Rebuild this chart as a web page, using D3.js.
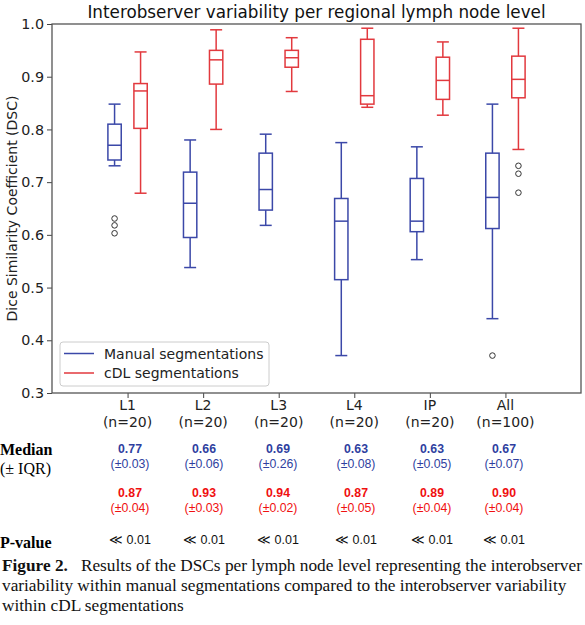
<!DOCTYPE html>
<html><head><meta charset="utf-8">
<script src="https://cdn.jsdelivr.net/npm/d3@7"></script>
<style>body{margin:0;background:#fff}svg{display:block}</style>
</head><body>
<svg id="c" width="585" height="625"></svg>
<script>
const categories = ["L1","L2","L3","L4","IP","All"];
const nLabels = ["(n=20)","(n=20)","(n=20)","(n=20)","(n=20)","(n=100)"];
// [lowWhisker, q1, median, q3, highWhisker]
const manualStats = [
  [0.731,0.742,0.770,0.810,0.848],
  [0.538,0.595,0.660,0.719,0.780],
  [0.618,0.647,0.686,0.755,0.791],
  [0.371,0.515,0.626,0.669,0.775],
  [0.553,0.606,0.626,0.707,0.767],
  [0.441,0.612,0.671,0.755,0.848]
];
const cdlStats = [
  [0.679,0.802,0.873,0.887,0.947],
  [0.800,0.886,0.932,0.950,0.989],
  [0.872,0.918,0.936,0.950,0.974],
  [0.842,0.848,0.864,0.971,0.992],
  [0.827,0.857,0.893,0.937,0.966],
  [0.762,0.860,0.895,0.939,0.992]
];
const manualOutliers = [[0.631,0.618,0.603],[],[],[],[],[0.371]];
const cdlOutliers = [[],[],[],[],[],[0.731,0.716,0.680]];
const medianManual = ["0.77","0.66","0.69","0.63","0.63","0.67"];
const iqrManual = ["(±0.03)","(±0.06)","(±0.26)","(±0.08)","(±0.05)","(±0.07)"];
const medianCdl = ["0.87","0.93","0.94","0.87","0.89","0.90"];
const iqrCdl = ["(±0.04)","(±0.03)","(±0.02)","(±0.05)","(±0.04)","(±0.04)"];
const pValues = ["≪ 0.01","≪ 0.01","≪ 0.01","≪ 0.01","≪ 0.01","≪ 0.01"];
const yTicks = [0.3,0.4,0.5,0.6,0.7,0.8,0.9,1.0];
const seriesNames = ["Manual segmentations","cDL segmentations"];

const svg = d3.select("#c");
const L=52, R=581, T=24, B=393;
const x = d3.scaleLinear().domain([0,7]).range([L,R]);
const y = d3.scaleLinear().domain([0.3,1.0]).range([B,T]);
const blue="#3b48a8", red="#e2393e";
const txtBlue="#2f3f9f", txtRed="#f01010";
const sans="'DejaVu Sans', sans-serif";
const fs = 14;

// axes
const yAxis = d3.axisLeft(y).tickValues(yTicks).tickFormat(d3.format(".1f")).tickSize(5).tickPadding(3);
const gy = svg.append("g").attr("transform",`translate(${L},0)`).call(yAxis);
gy.selectAll("text").attr("font-family",sans).attr("font-size",fs+0.3).attr("fill","#222");
gy.selectAll("line").attr("stroke","#444");
gy.select(".domain").remove();
const xAxis = d3.axisBottom(x).tickValues([1,2,3,4,5,6]).tickFormat("").tickSize(5);
const gx = svg.append("g").attr("transform",`translate(0,${B})`).call(xAxis);
gx.selectAll("line").attr("stroke","#444");
gx.select(".domain").remove();
svg.append("rect").attr("x",L).attr("y",T).attr("width",R-L).attr("height",B-T)
  .attr("fill","none").attr("stroke","#555").attr("stroke-width",1.3);

// x labels
categories.forEach((c,i)=>{
  svg.append("text").attr("x",x(i+1)).attr("y",410).attr("text-anchor","middle")
    .attr("font-family",sans).attr("font-size",fs).attr("fill","#222").text(c);
  svg.append("text").attr("x",x(i+1)).attr("y",427).attr("text-anchor","middle")
    .attr("font-family",sans).attr("font-size",fs).attr("fill","#222").text(nLabels[i]);
});

// title
svg.append("text").attr("x",(L+R)/2).attr("y",18).attr("text-anchor","middle")
  .attr("font-family",sans).attr("font-size",16.8).attr("fill","#111")
  .text("Interobserver variability per regional lymph node level");
// y label
svg.append("text").attr("transform",`translate(17,${(T+B)/2}) rotate(-90)`).attr("text-anchor","middle")
  .attr("font-family",sans).attr("font-size",fs).attr("fill","#222")
  .text("Dice Similarity Coefficient (DSC)");

// boxes
const off = 13/ (x(1)-x(0)); const bw = x(0.15)-x(0); const cw = 6;
function drawBoxes(stats, outs, shift, color){
  const g = svg.append("g");
  stats.forEach((s,i)=>{
    const cx = x(i+1+shift);
    const [lo,q1,md,q3,hi] = s;
    g.append("line").attr("x1",cx).attr("x2",cx).attr("y1",y(q3)).attr("y2",y(hi)).attr("stroke",color).attr("stroke-width",1.5);
    g.append("line").attr("x1",cx).attr("x2",cx).attr("y1",y(q1)).attr("y2",y(lo)).attr("stroke",color).attr("stroke-width",1.5);
    g.append("line").attr("x1",cx-cw).attr("x2",cx+cw).attr("y1",y(hi)).attr("y2",y(hi)).attr("stroke",color).attr("stroke-width",1.5);
    g.append("line").attr("x1",cx-cw).attr("x2",cx+cw).attr("y1",y(lo)).attr("y2",y(lo)).attr("stroke",color).attr("stroke-width",1.5);
    g.append("rect").attr("x",cx-bw/2-1).attr("y",y(q3)).attr("width",bw+2).attr("height",y(q1)-y(q3))
      .attr("fill","none").attr("stroke",color).attr("stroke-width",1.5);
    g.append("line").attr("x1",cx-bw/2-1).attr("x2",cx+bw/2+1).attr("y1",y(md)).attr("y2",y(md)).attr("stroke",color).attr("stroke-width",1.5);
    outs[i].forEach(v=>{
      g.append("circle").attr("cx",cx).attr("cy",y(v)).attr("r",2.8).attr("fill","none").attr("stroke","#333").attr("stroke-width",1);
    });
  });
}
drawBoxes(manualStats, manualOutliers, -off, blue);
drawBoxes(cdlStats, cdlOutliers, off, red);

// legend
const lg = svg.append("g");
lg.append("rect").attr("x",60).attr("y",342).attr("width",209).attr("height",44).attr("rx",3)
  .attr("fill","#fff").attr("fill-opacity",0.8).attr("stroke","#ccc");
[blue,red].forEach((c,i)=>{
  const yy = 353.5 + i*19.5;
  lg.append("line").attr("x1",64).attr("x2",94).attr("y1",yy).attr("y2",yy).attr("stroke",c).attr("stroke-width",1.5);
  lg.append("text").attr("x",104).attr("y",yy+5).attr("font-family",sans).attr("font-size",fs).attr("fill","#222").text(seriesNames[i]);
});

// table
const serif="'Liberation Serif','Times New Roman',serif";
const tsans="'Liberation Sans',Arial,sans-serif";
svg.append("text").attr("x",0).attr("y",455).attr("font-family",serif).attr("font-weight","bold").attr("font-size",16).text("Median");
svg.append("text").attr("x",0).attr("y",474).attr("font-family",serif).attr("font-size",16).text("(± IQR)");
svg.append("text").attr("x",0).attr("y",548).attr("font-family",serif).attr("font-weight","bold").attr("font-size",16).text("P-value");
const colX = [130,204,278,356,432,504];
const tf = 12.3;
categories.forEach((c,i)=>{
  const cx = colX[i];
  svg.append("text").attr("x",cx).attr("y",453).attr("text-anchor","middle").attr("font-family",tsans).attr("font-weight","bold").attr("font-size",tf).attr("fill",txtBlue).text(medianManual[i]);
  svg.append("text").attr("x",cx).attr("y",468).attr("text-anchor","middle").attr("font-family",tsans).attr("font-size",tf).attr("fill",txtBlue).text(iqrManual[i]);
  svg.append("text").attr("x",cx).attr("y",497).attr("text-anchor","middle").attr("font-family",tsans).attr("font-weight","bold").attr("font-size",tf).attr("fill",txtRed).text(medianCdl[i]);
  svg.append("text").attr("x",cx).attr("y",512).attr("text-anchor","middle").attr("font-family",tsans).attr("font-size",tf).attr("fill",txtRed).text(iqrCdl[i]);
  svg.append("text").attr("x",cx).attr("y",544).attr("text-anchor","middle").attr("font-family",tsans).attr("font-size",12.5).attr("fill","#111").text(pValues[i]);
});

// caption
const cap = svg.append("text").attr("font-family",serif).attr("font-size",17.3).attr("fill","#111");
const l1 = cap.append("tspan").attr("x",2).attr("y",571);
l1.append("tspan").attr("font-weight","bold").text("Figure 2.");
l1.append("tspan").attr("xml:space","preserve").text("   Results of the DSCs per lymph node level representing the interobserver");
cap.append("tspan").attr("x",2).attr("y",591).text("variability within manual segmentations compared to the interobserver variability");
cap.append("tspan").attr("x",2).attr("y",611).text("within cDL segmentations");
</script>
</body></html>
